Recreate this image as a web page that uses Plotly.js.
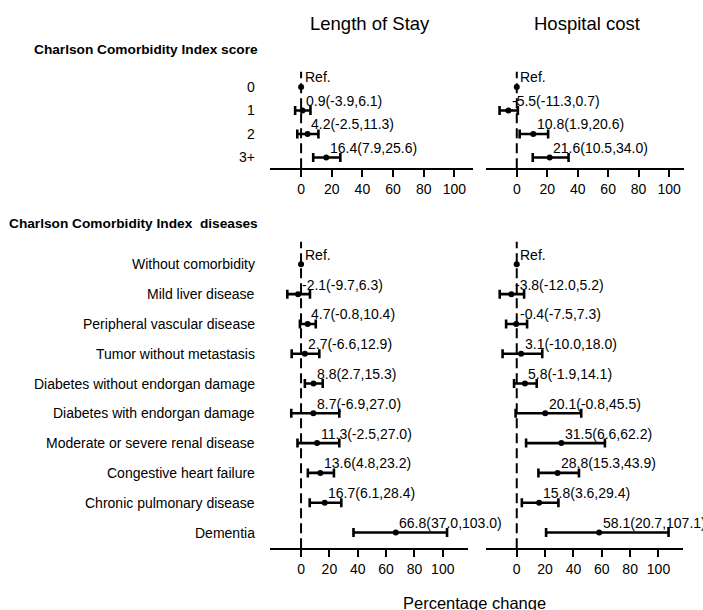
<!DOCTYPE html>
<html>
<head>
<meta charset="utf-8">
<script src="https://cdn.plot.ly/plotly-3.0.1.min.js"></script>
<style>html,body{margin:0;padding:0;background:#fff;}#chart{width:703px;height:610px;}</style>
</head>
<body>
<div id="chart"></div>
<script>
// ---------- data ----------
const scoreLabels = ["0", "1", "2", "3+"];
const scoreLosEst = [0, 0.9, 4.2, 16.4];
const scoreLosLo  = [null, -3.9, -2.5, 7.9];
const scoreLosHi  = [null, 6.1, 11.3, 25.6];
const scoreCostEst = [0, -5.5, 10.8, 21.6];
const scoreCostLo  = [null, -11.3, 1.9, 10.5];
const scoreCostHi  = [null, 0.7, 20.6, 34.0];

const diseaseLabels = ["Without comorbidity", "Mild liver disease", "Peripheral vascular disease",
  "Tumor without metastasis", "Diabetes without endorgan damage", "Diabetes with endorgan damage",
  "Moderate or severe renal disease", "Congestive heart failure", "Chronic pulmonary disease", "Dementia"];
const disLosEst = [0, -2.1, 4.7, 2.7, 8.8, 8.7, 11.3, 13.6, 16.7, 66.8];
const disLosLo  = [null, -9.7, -0.8, -6.6, 2.7, -6.9, -2.5, 4.8, 6.1, 37.0];
const disLosHi  = [null, 6.3, 10.4, 12.9, 15.3, 27.0, 27.0, 23.2, 28.4, 103.0];
const disCostEst = [0, -3.8, -0.4, 3.1, 5.8, 20.1, 31.5, 28.8, 15.8, 58.1];
const disCostLo  = [null, -12.0, -7.5, -10.0, -1.9, -0.8, 6.6, 15.3, 3.6, 20.7];
const disCostHi  = [null, 5.2, 7.3, 18.0, 14.1, 45.5, 62.2, 43.9, 29.4, 107.1];

const tickValues = [0, 20, 40, 60, 80, 100];
const panelTitles = ["Length of Stay", "Hospital cost"];
const groupTitles = ["Charlson Comorbidity Index score", "Charlson Comorbidity Index\u00a0\u00a0diseases"];
const xTitle = "Percentage change";
const refText = "Ref.";

// ---------- layout helpers ----------
const W = 703, H = 610;
const FONT = "Liberation Sans, Arial, Helvetica, sans-serif";
const px = v => v / W;
const py = v => 1 - v / H;

const traces = [];
const annotations = [];
const shapes = [];

function panel(idx, est, lo, hi) {
  const xa = idx === 1 ? 'x' : 'x' + idx;
  const ya = idx === 1 ? 'y' : 'y' + idx;
  const rows = est.map((_, i) => i);
  const plus = est.map((e, i) => hi[i] == null ? NaN : hi[i] - e);
  const minus = est.map((e, i) => lo[i] == null ? NaN : e - lo[i]);
  traces.push({
    type: 'scatter', mode: 'markers', x: est, y: rows, xaxis: xa, yaxis: ya,
    marker: {color: 'black', size: 6},
    error_x: {type: 'data', symmetric: false, array: plus, arrayminus: minus,
              color: 'black', thickness: 2.6, width: 4.5},
    hoverinfo: 'skip', showlegend: false, cliponaxis: false
  });
  est.forEach((e, i) => {
    const txt = lo[i] == null ? refText :
      e.toFixed(1) + "(" + lo[i].toFixed(1) + "," + hi[i].toFixed(1) + ")";
    annotations.push({
      xref: xa, yref: ya, x: e, y: i, text: txt, showarrow: false,
      xanchor: 'left', yanchor: 'middle', xshift: 1.5, yshift: 9.5,
      font: {family: FONT, size: 14, color: 'black'}
    });
  });
  shapes.push({
    type: 'line', xref: xa, yref: ya + ' domain', x0: 0, x1: 0, y0: 0, y1: 1,
    line: {color: 'black', width: 2, dash: '10px,5px'}, layer: 'below'
  });
}

panel(1, scoreLosEst, scoreLosLo, scoreLosHi);
panel(2, scoreCostEst, scoreCostLo, scoreCostHi);
panel(3, disLosEst, disLosLo, disLosHi);
panel(4, disCostEst, disCostLo, disCostHi);

function rowLabels(labels, ya) {
  labels.forEach((t, i) => annotations.push({
    xref: 'paper', yref: ya, x: px(257), y: i, text: t, showarrow: false,
    xanchor: 'right', yanchor: 'middle', font: {family: FONT, size: 14, color: 'black'}
  }));
}
rowLabels(scoreLabels, 'y');
rowLabels(diseaseLabels, 'y3');

// titles
annotations.push({xref: 'paper', yref: 'paper', x: px(370), y: py(24), text: panelTitles[0],
  showarrow: false, xanchor: 'center', yanchor: 'middle', font: {family: FONT, size: 18.5, color: 'black'}});
annotations.push({xref: 'paper', yref: 'paper', x: px(587), y: py(24), text: panelTitles[1],
  showarrow: false, xanchor: 'center', yanchor: 'middle', font: {family: FONT, size: 18.5, color: 'black'}});
annotations.push({xref: 'paper', yref: 'paper', x: px(260), y: py(50), text: '<b>' + groupTitles[0] + '</b>',
  showarrow: false, xanchor: 'right', yanchor: 'middle', font: {family: FONT, size: 13.7, color: 'black'}});
annotations.push({xref: 'paper', yref: 'paper', x: px(260), y: py(223), text: '<b>' + groupTitles[1] + '</b>',
  showarrow: false, xanchor: 'right', yanchor: 'middle', font: {family: FONT, size: 13.7, color: 'black'}});
annotations.push({xref: 'paper', yref: 'paper', x: px(474), y: py(603), text: xTitle,
  showarrow: false, xanchor: 'center', yanchor: 'middle', font: {family: FONT, size: 16.5, color: 'black'}});

function xaxis(d0, d1, r, anchor) {
  return {
    domain: [px(d0), px(d1)], range: r, anchor: anchor,
    showline: true, linecolor: 'black', linewidth: 2,
    ticks: 'outside', ticklen: 7, tickwidth: 2, tickcolor: 'black',
    tickvals: tickValues, showgrid: false, zeroline: false, fixedrange: true,
    tickfont: {family: FONT, size: 14, color: 'black'}
  };
}
function yaxis(t, b, r, anchor) {
  return {domain: [py(b), py(t)], range: r, anchor: anchor, visible: false, fixedrange: true};
}

const layout = {
  width: W, height: H, autosize: false,
  margin: {l: 0, r: 0, t: 0, b: 0, pad: 0},
  paper_bgcolor: 'white', plot_bgcolor: 'rgba(0,0,0,0)',
  showlegend: false,
  xaxis:  xaxis(270, 472.7, [-20.3, 112], 'y'),
  xaxis2: xaxis(485.7, 684.3, [-20.4, 110], 'y2'),
  xaxis3: xaxis(270, 468.3, [-21.9, 118], 'y3'),
  xaxis4: xaxis(485.7, 683.3, [-21.9, 117.5], 'y4'),
  yaxis:  yaxis(71.7, 168.3, [3.46, -0.65], 'x'),
  yaxis2: yaxis(71.7, 168.3, [3.46, -0.65], 'x2'),
  yaxis3: yaxis(241.7, 548.3, [9.53, -0.76], 'x3'),
  yaxis4: yaxis(241.7, 548.3, [9.53, -0.76], 'x4'),
  annotations: annotations,
  shapes: shapes
};

Plotly.newPlot('chart', traces, layout, {displayModeBar: false, staticPlot: true});
</script>
</body>
</html>
